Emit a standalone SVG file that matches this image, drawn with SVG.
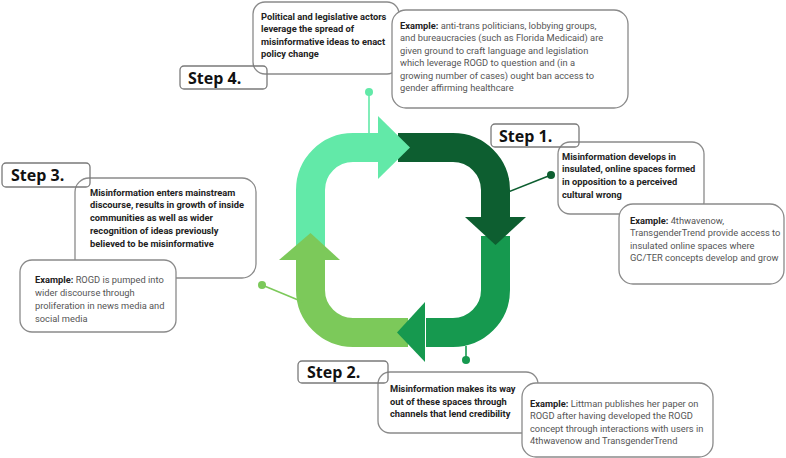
<svg xmlns="http://www.w3.org/2000/svg" width="786" height="458" viewBox="0 0 786 458">
<style>
.box{fill:#fff;stroke:#8a8a8a;stroke-width:1.3}
.lbl{fill:none;stroke:#7a7a7a;stroke-width:1.3}
.step{font-family:"Open Sans","Liberation Sans",sans-serif;font-weight:700;font-size:16px;fill:#111}
.main{font-family:Roboto,"Liberation Sans",sans-serif;font-weight:700;font-size:9.3px;fill:#222}
.ex{font-family:Roboto,"Liberation Sans",sans-serif;font-weight:400;font-size:9.3px;fill:#555}
.ex tspan.b{font-weight:700;fill:#222}
.band{fill:none;stroke-width:29}
</style>
<rect width="786" height="458" fill="#fff"/>
<g id="connectors">
<path class="band" stroke="#62E9A8" d="M310.5,252 L310.5,190 A42.5,42.5 0 0 1 353,147.5 L380,147.5"/>
<path class="band" stroke="#0D5E30" d="M398,147.5 L453,147.5 A42.5,42.5 0 0 1 495.5,190 L495.5,219"/>
<path class="band" stroke="#16994F" d="M495.5,236 L495.5,290 A42.5,42.5 0 0 1 453,332.5 L426,332.5"/>
<path class="band" stroke="#7CC95A" d="M408,332.5 L353,332.5 A42.5,42.5 0 0 1 310.5,290 L310.5,258"/>
<polygon fill="#62E9A8" points="378,116 410,147.5 378,179"/>
<polygon fill="#0D5E30" points="465,217 495.5,245 526,217"/>
<polygon fill="#16994F" points="425,302 397,332.5 425,362"/>
<polygon fill="#7CC95A" points="279,260 310.5,233 340,260"/>
<line x1="369" y1="92" x2="369" y2="133" stroke="#62E9A8" stroke-width="1.6"/>
<circle cx="369" cy="92" r="4" fill="#62E9A8"/>
<line x1="551" y1="175" x2="508" y2="192" stroke="#0D5E30" stroke-width="1.6"/>
<circle cx="551" cy="175" r="4" fill="#0D5E30"/>
<line x1="466" y1="346" x2="466" y2="360" stroke="#16994F" stroke-width="1.6"/>
<circle cx="466" cy="360" r="4" fill="#16994F"/>
<line x1="262" y1="285" x2="303" y2="302" stroke="#7CC95A" stroke-width="1.6"/>
<circle cx="262" cy="285" r="4" fill="#7CC95A"/>
</g>
<g id="step4">
<rect class="box" x="253" y="2" width="146" height="72" rx="12"/>
<rect class="lbl" x="180" y="66" width="87" height="23" rx="4"/>
<text class="step" x="188" y="83.5">Step 4.</text>
<text class="main" x="261"><tspan x="261" y="19.5">Political and legislative actors</tspan><tspan x="261" y="32">leverage the spread of</tspan><tspan x="261" y="44.5">misinformative ideas to enact</tspan><tspan x="261" y="57">policy change</tspan></text>
<rect class="box" x="392" y="10" width="236" height="98" rx="14"/>
<text class="ex" x="400"><tspan x="400" y="28.5"><tspan class="b">Example:</tspan> anti-trans politicians, lobbying groups,</tspan><tspan x="400" y="41">and bureaucracies (such as Florida Medicaid) are</tspan><tspan x="400" y="53.5">given ground to craft language and legislation</tspan><tspan x="400" y="66">which leverage ROGD to question and (in a</tspan><tspan x="400" y="78.5">growing number of cases) ought ban access to</tspan><tspan x="400" y="91">gender affirming healthcare</tspan></text>
</g>
<g id="step1">
<rect class="box" x="558" y="142" width="146" height="72" rx="12"/>
<rect class="lbl" x="491" y="124" width="88" height="23" rx="4"/>
<text class="step" x="499" y="141.5">Step 1.</text>
<text class="main"><tspan x="562" y="159.5">Misinformation develops in</tspan><tspan x="562" y="172.3">insulated, online spaces formed</tspan><tspan x="562" y="185">in opposition to a perceived</tspan><tspan x="562" y="197.8">cultural wrong</tspan></text>
<rect class="box" x="619" y="204" width="165" height="80" rx="14"/>
<text class="ex"><tspan x="630" y="223.5"><tspan class="b">Example:</tspan> 4thwavenow,</tspan><tspan x="630" y="236">TransgenderTrend provide access to</tspan><tspan x="630" y="248.5">insulated online spaces where</tspan><tspan x="630" y="261">GC/TER concepts develop and grow</tspan></text>
</g>
<g id="step2">
<rect class="box" x="378" y="372" width="160" height="61" rx="12"/>
<rect class="lbl" x="298" y="361" width="90" height="22" rx="4"/>
<text class="step" x="307" y="378">Step 2.</text>
<text class="main"><tspan x="390" y="391.5">Misinformation makes its way</tspan><tspan x="390" y="404.5">out of these spaces through</tspan><tspan x="390" y="416.5">channels that lend credibility</tspan></text>
<rect class="box" x="522" y="383" width="191" height="74" rx="14"/>
<text class="ex"><tspan x="530" y="406.5"><tspan class="b">Example:</tspan> Littman publishes her paper on</tspan><tspan x="530" y="418.5">ROGD after having developed the ROGD</tspan><tspan x="530" y="431.5">concept through interactions with users in</tspan><tspan x="530" y="443.5">4thwavenow and TransgenderTrend</tspan></text>
</g>
<g id="step3">
<rect class="box" x="75" y="178" width="181" height="100" rx="14"/>
<rect class="lbl" x="2" y="163" width="88" height="24" rx="4"/>
<text class="step" x="11" y="181">Step 3.</text>
<text class="main"><tspan x="90" y="195.5">Misinformation enters mainstream</tspan><tspan x="90" y="208">discourse, results in growth of inside</tspan><tspan x="90" y="221">communities as well as wider</tspan><tspan x="90" y="233.5">recognition of ideas previously</tspan><tspan x="90" y="246.5">believed to be misinformative</tspan></text>
<rect class="box" x="20" y="260" width="156" height="72" rx="12"/>
<text class="ex"><tspan x="35" y="282.5"><tspan class="b">Example:</tspan> ROGD is pumped into</tspan><tspan x="35" y="296">wider discourse through</tspan><tspan x="35" y="309">proliferation in news media and</tspan><tspan x="35" y="321.5">social media</tspan></text>
</g>
</svg>
